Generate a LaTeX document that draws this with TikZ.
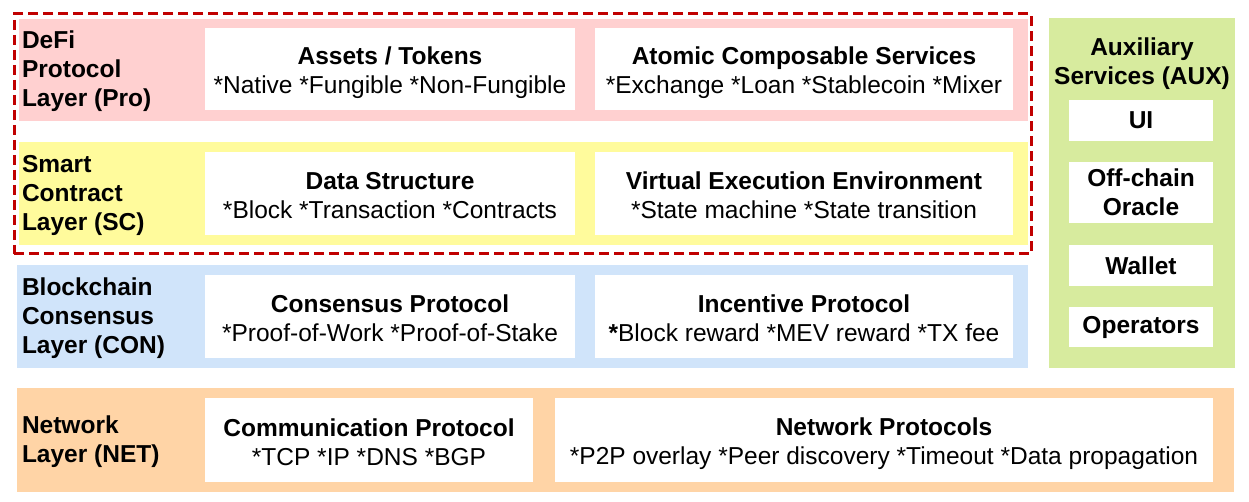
\documentclass[tikz,border=0pt]{standalone}
\usepackage{fontspec}
\setmainfont{Liberation Sans}
\definecolor{proFill}{HTML}{FFD0D0}
\definecolor{scFill}{HTML}{FFFB9C}
\definecolor{conFill}{HTML}{D0E4FA}
\definecolor{netFill}{HTML}{FFD4A6}
\definecolor{auxFill}{HTML}{D7EB9E}
\definecolor{frameRed}{HTML}{C00000}
% heading and item lines of a component cell, with struts fixing their placement
\newcommand\cellhead[1]{\vrule height 26pt depth 0pt width 0pt\textbf{#1}}
\newcommand\cellitems[1]{#1\vrule height 0pt depth 5pt width 0pt}
\begin{document}
\begin{tikzpicture}[x=1pt,y=-1pt,
  every node/.style={inner sep=0pt, outer sep=0pt},
  band/.style={anchor=north west, draw=none},
  cell/.style={anchor=north west, fill=white, align=center,
    font=\fontsize{24.5}{29}\selectfont},
  lbl/.style={anchor=west, align=left, font=\fontsize{24.5}{29}\selectfont\bfseries},
  auxcell/.style={cell, font=\fontsize{24.5}{29}\selectfont\bfseries, minimum width=144pt},
]
\useasboundingbox[fill=white] (0,0) rectangle (1249,502);

% layer bands
\node[band, fill=proFill, minimum width=1009pt, minimum height=102pt] (pro) at (19,19) {};
\node[band, fill=scFill,  minimum width=1009pt, minimum height=103pt] (sc)  at (19,142) {};
\node[band, fill=conFill, minimum width=1011pt, minimum height=103pt] (con) at (17,265) {};
\node[band, fill=netFill, minimum width=1217pt, minimum height=104pt] (net) at (17,388) {};
\node[band, fill=auxFill, minimum width=186pt,  minimum height=350pt] (aux) at (1049,18) {};

% dashed frame around the DeFi and smart contract layers
\node[band, draw=frameRed, line width=3pt, dash pattern=on 10pt off 5pt,
  minimum width=1017pt, minimum height=240pt] (defiframe) at (14,14) {};

% layer names
\node[lbl] (proLbl) at (22,71)  {DeFi\\Protocol\\Layer (Pro)};
\node[lbl] (scLbl)  at (22,195) {Smart\\Contract\\Layer (SC)};
\node[lbl] (conLbl) at (22,318) {Blockchain\\Consensus\\Layer (CON)};
\node[lbl] (netLbl) at (22,442) {Network\\Layer (NET)};
\node[font=\fontsize{24.5}{29}\selectfont\bfseries, align=center] (auxLbl) at (1142,64)
  {Auxiliary\\Services (AUX)};

% component cells
\node[cell, minimum width=370pt, minimum height=82pt] (assets) at (205,28)
  {\cellhead{Assets / Tokens}\\\cellitems{*Native *Fungible *Non-Fungible}};
\node[cell, minimum width=418pt, minimum height=82pt] (atomic) at (595,28)
  {\cellhead{Atomic Composable Services}\\\cellitems{*Exchange *Loan *Stablecoin *Mixer}};
\node[cell, minimum width=370pt, minimum height=83pt] (data) at (205,152)
  {\cellhead{Data Structure}\\\cellitems{*Block *Transaction *Contracts}};
\node[cell, minimum width=418pt, minimum height=83pt] (vee) at (595,152)
  {\cellhead{Virtual Execution Environment}\\\cellitems{*State machine *State transition}};
\node[cell, minimum width=370pt, minimum height=83pt] (consensus) at (205,275)
  {\cellhead{Consensus Protocol}\\\cellitems{*Proof-of-Work *Proof-of-Stake}};
\node[cell, minimum width=418pt, minimum height=83pt] (incentive) at (595,275)
  {\cellhead{Incentive Protocol}\\\cellitems{\textbf{*}Block reward *MEV reward *TX fee}};
\node[cell, minimum width=328pt, minimum height=84pt] (comm) at (205,398)
  {\cellhead{Communication Protocol}\\\cellitems{*TCP *IP *DNS *BGP}};
\node[cell, minimum width=658pt, minimum height=84pt] (netproto) at (555,398)
  {\cellhead{Network Protocols}\\\cellitems{*P2P overlay *Peer discovery *Timeout *Data propagation}};

% auxiliary services
\node[auxcell, minimum height=41pt] (ui) at (1069,100) {UI};
\node[auxcell, minimum height=61pt] (oracle) at (1069,162) {Off-chain\\Oracle};
\node[auxcell, minimum height=41pt] (wallet) at (1069,245) {Wallet};
\node[auxcell, minimum height=40pt] (ops) at (1069,307) {Operators};
\end{tikzpicture}
\end{document}
